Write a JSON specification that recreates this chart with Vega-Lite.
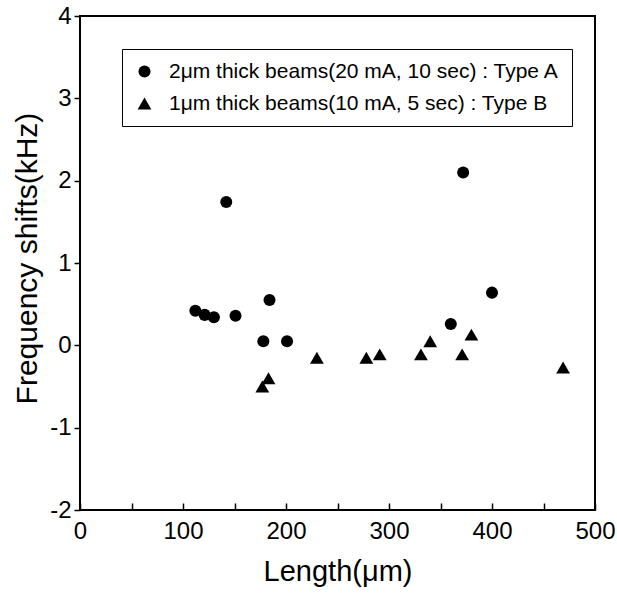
{
  "$schema": "https://vega.github.io/schema/vega-lite/v6.json",
  "width": 515,
  "height": 494,
  "autosize": {"type": "none"},
  "padding": {"left": 80, "top": 16, "right": 22, "bottom": 86},
  "background": "white",
  "config": {
    "font": "Liberation Sans",
    "view": {"stroke": "black", "strokeWidth": 2},
    "axis": {"grid": false, "domain": false, "labelColor": "black", "titleColor": "black", "tickColor": "black", "titleFontWeight": "normal"}
  },
  "data": {
    "values": [
      {"length": 112, "shift": 0.42, "type": "2μm thick beams(20 mA, 10 sec) : Type A"},
      {"length": 121, "shift": 0.37, "type": "2μm thick beams(20 mA, 10 sec) : Type A"},
      {"length": 130, "shift": 0.34, "type": "2μm thick beams(20 mA, 10 sec) : Type A"},
      {"length": 142, "shift": 1.74, "type": "2μm thick beams(20 mA, 10 sec) : Type A"},
      {"length": 151, "shift": 0.36, "type": "2μm thick beams(20 mA, 10 sec) : Type A"},
      {"length": 178, "shift": 0.05, "type": "2μm thick beams(20 mA, 10 sec) : Type A"},
      {"length": 184, "shift": 0.55, "type": "2μm thick beams(20 mA, 10 sec) : Type A"},
      {"length": 201, "shift": 0.05, "type": "2μm thick beams(20 mA, 10 sec) : Type A"},
      {"length": 360, "shift": 0.26, "type": "2μm thick beams(20 mA, 10 sec) : Type A"},
      {"length": 372, "shift": 2.10, "type": "2μm thick beams(20 mA, 10 sec) : Type A"},
      {"length": 400, "shift": 0.64, "type": "2μm thick beams(20 mA, 10 sec) : Type A"},
      {"length": 177, "shift": -0.50, "type": "1μm thick beams(10 mA, 5 sec) : Type B"},
      {"length": 183, "shift": -0.40, "type": "1μm thick beams(10 mA, 5 sec) : Type B"},
      {"length": 230, "shift": -0.15, "type": "1μm thick beams(10 mA, 5 sec) : Type B"},
      {"length": 278, "shift": -0.15, "type": "1μm thick beams(10 mA, 5 sec) : Type B"},
      {"length": 291, "shift": -0.11, "type": "1μm thick beams(10 mA, 5 sec) : Type B"},
      {"length": 331, "shift": -0.11, "type": "1μm thick beams(10 mA, 5 sec) : Type B"},
      {"length": 340, "shift": 0.05, "type": "1μm thick beams(10 mA, 5 sec) : Type B"},
      {"length": 371, "shift": -0.11, "type": "1μm thick beams(10 mA, 5 sec) : Type B"},
      {"length": 380, "shift": 0.13, "type": "1μm thick beams(10 mA, 5 sec) : Type B"},
      {"length": 469, "shift": -0.27, "type": "1μm thick beams(10 mA, 5 sec) : Type B"}
    ]
  },
  "mark": {"type": "point", "filled": true, "opacity": 1, "color": "black"},
  "encoding": {
    "x": {
      "field": "length", "type": "quantitative",
      "scale": {"domain": [0, 500], "nice": false, "zero": false},
      "axis": {
        "title": "Length(μm)",
        "values": [0, 50, 100, 150, 200, 250, 300, 350, 400, 450, 500],
        "labelExpr": "datum.value % 100 === 0 ? datum.label : ''",
        "tickSize": -7,
        "tickWidth": 1.5,
        "labelFontSize": 24,
        "labelPadding": 16,
        "labelFlush": false,
        "titleFontSize": 29,
        "titleBaseline": "alphabetic",
        "titleY": 70
      }
    },
    "y": {
      "field": "shift", "type": "quantitative",
      "scale": {"domain": [-2, 4], "nice": false, "zero": false},
      "axis": {
        "title": "Frequency shifts(kHz)",
        "values": [-2, -1, 0, 1, 2, 3, 4],
        "labelExpr": "datum.value + ''",
        "tickSize": 6,
        "tickWidth": 1.5,
        "labelFontSize": 24,
        "labelPadding": 3,
        "labelFlush": false,
        "titleFontSize": 30,
        "titleX": -53,
        "titleY": 242,
        "titleBaseline": "middle",
        "titleAlign": "center",
        "titleAngle": -90
      }
    },
    "shape": {
      "field": "type", "type": "nominal",
      "scale": {
        "domain": ["2μm thick beams(20 mA, 10 sec) : Type A", "1μm thick beams(10 mA, 5 sec) : Type B"],
        "range": ["circle", "triangle-up"]
      },
      "legend": {
        "title": null,
        "orient": "none",
        "legendX": 42,
        "legendY": 33,
        "strokeColor": "black",
        "fillColor": "white",
        "padding": 12,
        "labelFontSize": 21,
        "labelColor": "black",
        "labelLimit": 500,
        "labelOffset": 14,
        "symbolFillColor": "black",
        "symbolStrokeColor": "black",
        "symbolOpacity": 1,
        "rowPadding": 10
      }
    },
    "size": {
      "field": "type", "type": "nominal",
      "scale": {
        "domain": ["2μm thick beams(20 mA, 10 sec) : Type A", "1μm thick beams(10 mA, 5 sec) : Type B"],
        "range": [145, 190]
      },
      "legend": {
        "title": null,
        "orient": "none",
        "legendX": 42,
        "legendY": 33,
        "strokeColor": "black",
        "fillColor": "white",
        "padding": 12,
        "labelFontSize": 21,
        "labelColor": "black",
        "labelLimit": 500,
        "labelOffset": 14,
        "symbolFillColor": "black",
        "symbolStrokeColor": "black",
        "symbolOpacity": 1,
        "rowPadding": 10
      }
    }
  }
}
